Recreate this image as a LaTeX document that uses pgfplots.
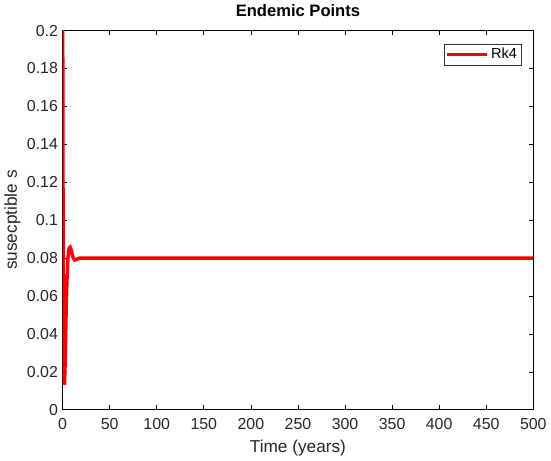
\documentclass[border=0pt]{standalone}
\usepackage{pgfplots}
\pgfplotsset{compat=1.18}
\usepackage{fontspec}
\setmainfont{Liberation Sans}
\begin{document}
\begin{tikzpicture}
  \begin{axis}[
    scale only axis,
    width=355pt, height=286pt,
    xmin=0, xmax=500, ymin=0, ymax=0.2,
    xtick={0,50,...,500},
    ytick={0,0.02,0.04,0.06,0.08,0.1,0.12,0.14,0.16,0.18,0.2},
    yticklabel style={/pgf/number format/fixed, /pgf/number format/precision=2},
    scaled y ticks=false,
    /pgf/number format/assume math mode=true,
    tick align=inside,
    tick style={black, line width=0.5pt},
    major tick length=3.5pt,
    axis line style={black, line width=0.5pt},
    ticklabel style={font=\fontsize{12}{14}\selectfont, color=black!85},
    xticklabel style={yshift=-3pt},
    title={\bfseries Endemic Points},
    title style={font=\fontsize{12.5}{14}\selectfont, yshift=1pt},
    xlabel={Time (years)},
    ylabel={susecptible s},
    label style={font=\fontsize{13}{15}\selectfont, color=black!85},
    xlabel style={yshift=-1pt},
    ylabel style={yshift=-2pt},
    legend style={at={(0.975,0.965)}, anchor=north east, draw=black!80,
      font=\fontsize{11}{13}\selectfont, inner sep=1.2pt},
    legend image post style={line width=2.6pt},
    legend image code/.code={\draw[#1] (0cm,0cm) -- (1.05cm,0cm);},
  ]
  \addplot[red, line width=2.6pt, smooth, tension=0.3] coordinates {
    (0,0.26) (0.3,0.15) (0.7,0.075) (1.1,0.035) (1.6,0.016) (2.1,0.014)
    (2.8,0.027) (3.6,0.048) (4.5,0.066) (5.5,0.078) (6.5,0.0845) (8,0.0858)
    (9.5,0.0835) (11,0.0805) (13,0.079) (15,0.0793) (18,0.08) (25,0.08)
    (100,0.08) (500,0.08)
  };
  \addlegendentry{Rk4}
  \end{axis}
\end{tikzpicture}
\end{document}
